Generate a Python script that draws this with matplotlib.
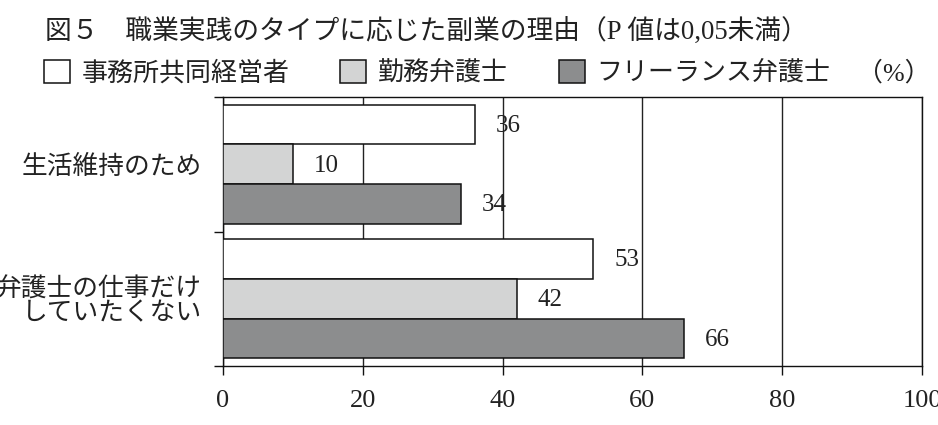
import matplotlib.pyplot as plt
import numpy as np

plt.rcParams['font.family'] = ['Liberation Serif', 'Noto Sans CJK JP']

TITLE = "図５　職業実践のタイプに応じた副業の理由（P 値は0,05未満）"
reasons = ["生活維持のため", "弁護士の仕事だけ\nしていたくない"]
series_names = ["事務所共同経営者", "勤務弁護士", "フリーランス弁護士"]
partner = [36, 53]
employed = [10, 42]
freelance = [34, 66]
series_values = [partner, employed, freelance]
colors = ["#ffffff", "#d3d4d4", "#8c8d8e"]
x_ticks = [0, 20, 40, 60, 80, 100]

fig = plt.figure(figsize=(9.38, 4.25), dpi=100)
ax = fig.add_axes([223 / 938, 1 - 366 / 425, 699 / 938, 269 / 425])

ypos = np.arange(len(reasons))
bar_h = 0.296
bars = []
for i, (name, vals, col) in enumerate(zip(series_names, series_values, colors)):
    offset = (i - 1) * bar_h
    b = ax.barh(ypos + offset, vals, height=bar_h, color=col, edgecolor="#111111",
                linewidth=1.1, label=name, zorder=3)
    bars.append(b)
    for y, v in zip(ypos + offset, vals):
        ax.annotate(f"{v}", (v, y), xytext=(15, -1), textcoords="offset points",
                    ha="left", va="center", fontsize=18, color="#222222", zorder=4)

ax.set_xlim(0, 100)
ax.set_ylim(1.5, -0.5)
ax.set_xticks(x_ticks)
ax.set_xticklabels([str(t) for t in x_ticks], fontsize=19, color="#222222")
ax.set_yticks(ypos)
ax.set_yticklabels(reasons, fontsize=18.5, color="#222222", linespacing=1.05)
ax.set_yticks([-0.5, 0.5, 1.5], minor=True)
ax.tick_params(axis="y", which="major", length=0, pad=15)
ax.tick_params(axis="y", which="minor", length=6.5, width=1.0, color="#111111")
ax.tick_params(axis="x", length=6.5, width=1.0, color="#111111", pad=11)

ax.grid(True, axis="x", color="#222222", linewidth=1.0, zorder=0)
ax.set_axisbelow(True)
for side, sp in ax.spines.items():
    sp.set_color("#111111")
    sp.set_linewidth(1.0)

fig.text(45 / 938, 1 - 32 / 425, TITLE, fontsize=19.3, ha="left", va="center",
         color="#222222")

fig.legend(handles=bars, labels=series_names, loc="center left",
           bbox_to_anchor=(44 / 938, 1 - 73 / 425), ncol=3, frameon=False,
           fontsize=18.7, borderpad=0, borderaxespad=0, handlelength=1.0,
           handleheight=1.0, handletextpad=0.45, columnspacing=1.95,
           labelcolor="#222222")
fig.text(0.992, 1 - 73 / 425, "（%）", fontsize=18.7, ha="right", va="center",
         color="#222222")

fig.savefig("out.png", dpi=100)
